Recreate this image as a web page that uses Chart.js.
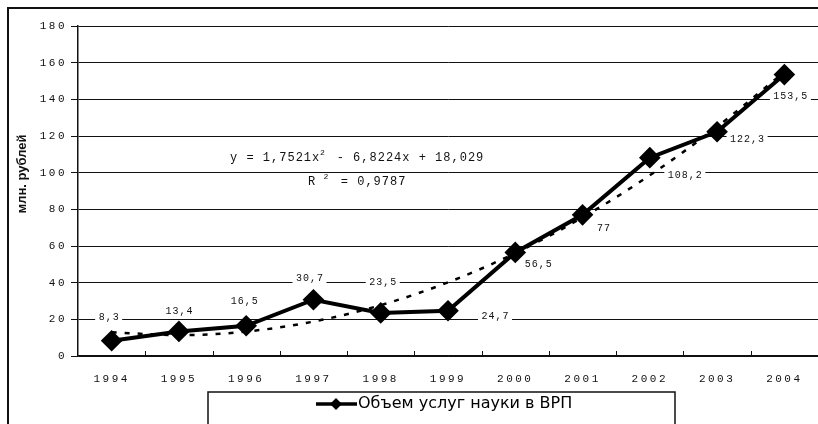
<!DOCTYPE html>
<html>
<head>
<meta charset="utf-8">
<script src="https://cdn.jsdelivr.net/npm/chart.js@4/dist/chart.umd.min.js"></script>
<style>
  html, body { margin: 0; padding: 0; background: #fff; overflow: hidden; }
  #wrap { width: 818px; height: 424px; }
  canvas { display: block; }
</style>
</head>
<body>
<div id="wrap"><canvas id="scienceChart"></canvas></div>
<script>
// years on the x axis
var years = ["1994", "1995", "1996", "1997", "1998", "1999", "2000", "2001", "2002", "2003", "2004"];
// объем услуг науки, млн. рублей
var volume = [8.3, 13.4, 16.5, 30.7, 23.5, 24.7, 56.5, 77, 108.2, 122.3, 153.5];
var volumeLabels = ["8,3", "13,4", "16,5", "30,7", "23,5", "24,7", "56,5", "77", "108,2", "122,3", "153,5"];
// polynomial trend values (y = 1,7521x2 - 6,8224x + 18,029 at x = 1..11)
var trend = [12.96, 11.39, 13.33, 18.77, 27.72, 40.17, 56.13, 75.58, 98.55, 125.02, 154.99];
var yTicks = [0, 20, 40, 60, 80, 100, 120, 140, 160, 180];

// where each value label sits relative to its point (dx, dy)
var labelOffsets = [[-3, -23], [0, -20], [-2, -24], [-4, -21], [2, -31], [47, 6], [23, 12], [21, 14], [35, 18], [30, 8], [6, 22]];

var mono = "'Liberation Mono', 'DejaVu Sans Mono', monospace";

var decorPlugin = {
  id: "decor",
  beforeDraw: function (chart) {
    var ctx = chart.ctx;
    ctx.save();
    ctx.fillStyle = "#fff";
    ctx.fillRect(0, 0, chart.width, chart.height);
    ctx.restore();
    ctx.letterSpacing = "2.5px";
  },
  afterDraw: function (chart) {
    var ctx = chart.ctx;
    var xs = chart.scales.x, ys = chart.scales.y;
    var area = chart.chartArea;
    ctx.save();
    // page frame
    ctx.strokeStyle = "#111";
    ctx.lineWidth = 2;
    ctx.beginPath();
    ctx.moveTo(8, chart.height);
    ctx.lineTo(8, 8);
    ctx.lineTo(chart.width, 8);
    ctx.stroke();

    // small tick marks between years, pointing up from the axis
    ctx.lineWidth = 1;
    ctx.beginPath();
    for (var i = 1; i < years.length; i++) {
      var tx0 = Math.round(xs.getPixelForValue(i - 0.5)) + 0.5;
      ctx.moveTo(tx0, area.bottom);
      ctx.lineTo(tx0, area.bottom - 5);
    }
    ctx.stroke();

    // value labels
    ctx.letterSpacing = "1px";
    ctx.font = "10px " + mono;
    ctx.textAlign = "center";
    ctx.textBaseline = "middle";
    var meta = chart.getDatasetMeta(0);
    meta.data.forEach(function (pt, i) {
      var tx = pt.x + labelOffsets[i][0];
      var ty = pt.y + labelOffsets[i][1];
      var w = ctx.measureText(volumeLabels[i]).width;
      ctx.fillStyle = "#fff";
      ctx.fillRect(tx - w / 2 - 3, ty - 6, w + 6, 12);
      ctx.fillStyle = "#111";
      ctx.fillText(volumeLabels[i], tx + 0.5, ty);
    });

    // trend equation
    var ex = xs.getPixelForValue(3.65);
    var ey = ys.getPixelForValue(100) - 15;
    ctx.font = "12px " + mono;
    ctx.letterSpacing = "1px";
    var eq = "y = 1,7521x  - 6,8224x + 18,029";
    var ew = ctx.measureText(eq).width;
    ctx.fillStyle = "#fff";
    ctx.fillRect(ex - ew / 2 - 3, ey - 8, ew + 6, 16);
    ctx.fillStyle = "#111";
    ctx.fillText(eq, ex, ey);
    var supX = ex - ew / 2 + ctx.measureText("y = 1,7521x").width;
    ctx.font = "8px " + mono;
    ctx.letterSpacing = "0px";
    ctx.fillText("2", supX + 2, ey - 5);
    ctx.font = "12px " + mono;
    ctx.letterSpacing = "1px";
    var r2 = "R   = 0,9787";
    var rw = ctx.measureText(r2).width;
    var ry = ey + 24;
    ctx.fillStyle = "#fff";
    ctx.fillRect(ex - rw / 2 - 3, ry - 8, rw + 6, 16);
    ctx.fillStyle = "#111";
    ctx.fillText(r2, ex, ry);
    ctx.font = "8px " + mono;
    ctx.letterSpacing = "0px";
    ctx.fillText("2", ex - rw / 2 + 18, ry - 5);

    // y axis title
    ctx.letterSpacing = "0px";
    ctx.translate(22, (area.top + area.bottom) / 2 - 17);
    ctx.rotate(-Math.PI / 2);
    ctx.font = "bold 13px 'Liberation Sans', Arial, sans-serif";
    ctx.fillStyle = "#111";
    ctx.fillText("млн. рублей", 0, 0);
    ctx.restore();

    // legend box
    ctx.save();
    ctx.letterSpacing = "0px";
    ctx.strokeStyle = "#111";
    ctx.lineWidth = 1.5;
    ctx.strokeRect(208, 392, 467, 60);
    ctx.strokeStyle = "#000";
    ctx.lineWidth = 3.5;
    ctx.beginPath();
    ctx.moveTo(316, 404);
    ctx.lineTo(357, 404);
    ctx.stroke();
    ctx.fillStyle = "#000";
    ctx.beginPath();
    ctx.moveTo(336, 398);
    ctx.lineTo(342, 404);
    ctx.lineTo(336, 410);
    ctx.lineTo(330, 404);
    ctx.closePath();
    ctx.fill();
    ctx.font = "16px 'DejaVu Sans', sans-serif";
    ctx.textAlign = "left";
    ctx.textBaseline = "middle";
    ctx.fillText(chart.data.datasets[0].label, 358, 404);
    ctx.restore();
    ctx.letterSpacing = "0px";
  }
};

new Chart(document.getElementById("scienceChart"), {
  type: "line",
  data: {
    labels: years,
    datasets: [
      {
        label: "Объем услуг науки в ВРП",
        data: volume,
        borderColor: "#000",
        backgroundColor: "#000",
        borderWidth: 4,
        pointStyle: "rectRot",
        pointRadius: 8,
        pointBackgroundColor: "#000",
        pointBorderColor: "#000",
        tension: 0,
        order: 1,
        clip: false,
      },
      {
        label: "trend",
        data: trend,
        borderColor: "#000",
        borderWidth: 2.5,
        borderDash: [5, 8],
        pointRadius: 0,
        cubicInterpolationMode: "monotone",
        fill: false,
        order: 2,
      },
    ],
  },
  options: {
    responsive: true,
    maintainAspectRatio: false,
    animation: false,
    layout: { autoPadding: false, padding: { left: 10, top: 26, right: -8, bottom: 0 } },
    plugins: {
      legend: { display: false },
      tooltip: { enabled: false },
    },
    scales: {
      x: {
        offset: true,
        afterFit: function (scale) {
          scale.height = 68;
        },
        grid: { display: false },
        border: { display: true, color: "#111", width: 1.5 },
        ticks: { color: "#111", font: { family: mono, size: 11 }, padding: 8, maxRotation: 0 },
      },
      y: {
        min: 0,
        max: 180,
        afterFit: function (scale) {
          scale.width = 68;
        },
        afterBuildTicks: function (scale) {
          scale.ticks = yTicks.map(function (v) { return { value: v }; });
        },
        grid: { color: "#111", lineWidth: 1, tickLength: 7 },
        border: { display: true, color: "#111", width: 1.5 },
        ticks: { color: "#111", font: { family: mono, size: 11 }, padding: 4 },
      },
    },
  },
  plugins: [decorPlugin],
});
</script>
</body>
</html>
